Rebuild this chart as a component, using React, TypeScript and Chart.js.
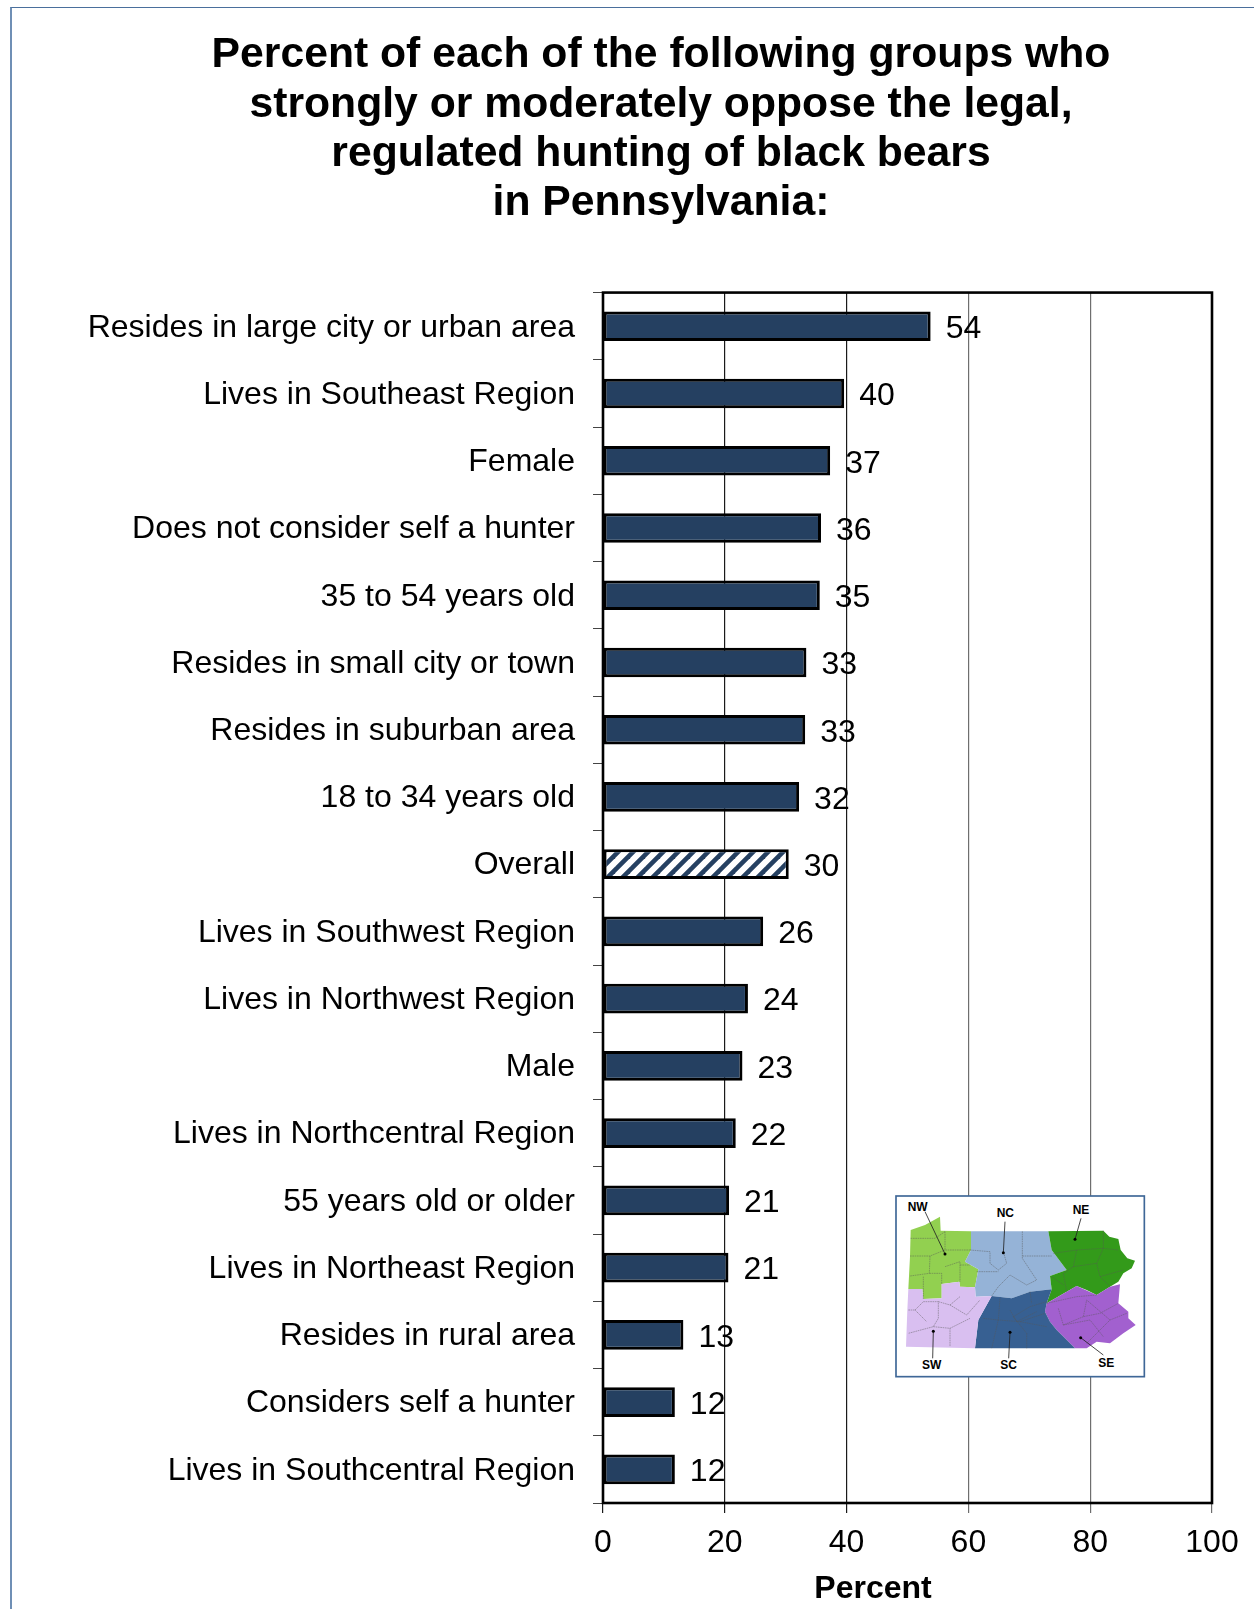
import React, { useEffect, useRef } from "react";
import { Chart, registerables } from "chart.js";

Chart.register(...registerables);

const titleLines = [
  "Percent of each of the following groups who",
  "strongly or moderately oppose the legal,",
  "regulated hunting of black bears",
  "in Pennsylvania:",
];
const categories = [
  "Resides in large city or urban area",
  "Lives in Southeast Region",
  "Female",
  "Does not consider self a hunter",
  "35 to 54 years old",
  "Resides in small city or town",
  "Resides in suburban area",
  "18 to 34 years old",
  "Overall",
  "Lives in Southwest Region",
  "Lives in Northwest Region",
  "Male",
  "Lives in Northcentral Region",
  "55 years old or older",
  "Lives in Northeast Region",
  "Resides in rural area",
  "Considers self a hunter",
  "Lives in Southcentral Region",
];
const barValues = [53.8, 39.6, 37.3, 35.8, 35.6, 33.4, 33.2, 32.2, 30.5, 26.3, 23.8, 22.9, 21.8, 20.7, 20.6, 13.2, 11.8, 11.8];
const valueLabels = ["54", "40", "37", "36", "35", "33", "33", "32", "30", "26", "24", "23", "22", "21", "21", "13", "12", "12"];
const hatchedCategory = "Overall";
const axisTitle = "Percent";

const FONT = '"Liberation Sans", Arial, sans-serif';
const NAVY = "#254061";

const regions: { fill: string; points: string }[] = [
  { fill: "#92d050", points: "122,180 165,165 210,140 212,182 303,184 303,240 285,275 325,298 315,352 270,350 268,335 215,342 215,385 160,387 157,357 115,357 120,260" },
  { fill: "#95b3d7", points: "303,184 535,184 545,240 590,300 540,318 545,358 480,365 425,385 365,378 317,380 315,352 325,298 285,275 303,240" },
  { fill: "#339a1a", points: "535,184 700,182 718,200 745,207 752,240 772,265 795,272 785,295 760,310 745,335 720,350 680,375 650,360 620,348 590,365 530,400 545,358 540,318 590,300 545,240" },
  { fill: "#a260cf", points: "530,400 590,365 620,348 680,375 720,350 750,343 745,400 775,425 775,445 797,465 760,490 720,520 680,515 650,535 615,535 585,505 560,480 540,455 525,425" },
  { fill: "#376092", points: "365,378 425,385 480,365 545,358 530,400 525,425 540,455 560,480 585,505 615,535 315,535 325,450" },
  { fill: "#d9bff0", points: "115,357 157,357 160,387 215,385 215,342 268,335 270,350 315,352 317,380 365,378 325,450 315,535 108,530 112,420" },
];
const countyLines = [
  "122,205 195,205 225,185", "225,185 225,240 303,240", "120,258 180,258 225,240", "180,258 178,310 120,318",
  "178,310 215,310 215,342", "160,387 160,320", "225,290 270,275 270,335", "270,285 300,285",
  "300,240 360,245 360,280 385,300 410,280 400,245", "457,184 457,265 500,330 470,345 420,315 385,350 365,378", "457,258 545,258", "320,305 385,305",
  "620,240 700,235 745,240", "550,250 620,240 610,290 580,310 590,365", "610,290 680,280 690,320 720,350", "700,182 700,235 680,280", "690,320 760,300", "545,320 580,345",
  "530,400 620,380 680,375", "565,415 580,465 640,440 690,430 745,400", "640,440 650,390 720,450 650,520", "580,465 660,450 700,500", "720,450 770,430",
  "390,385 385,450 365,535", "430,440 480,410 530,395", "430,440 470,490 470,535", "340,445 385,450 450,455 525,430", "450,455 530,470", "480,365 485,400", "420,420 440,455 500,425",
  "135,420 160,395 205,395 205,445 190,470 115,490", "205,395 240,405 290,435 330,390", "190,470 240,475 240,530", "240,405 270,380", "115,420 135,420 170,455", "240,475 300,445",
];
const pointers = [
  { line: "165,125 225,252", dot: "225,252" },
  { line: "405,155 400,248", dot: "400,248" },
  { line: "633,145 615,208", dot: "615,208" },
  { line: "188,565 190,484", dot: "190,484" },
  { line: "416,565 420,487", dot: "420,487" },
  { line: "700,555 632,503", dot: "632,503" },
];
const mapLabels = [
  { t: "NW", x: 143, y: 122 }, { t: "NC", x: 406, y: 138 }, { t: "NE", x: 633, y: 130 },
  { t: "SW", x: 185, y: 595 }, { t: "SC", x: 416, y: 596 }, { t: "SE", x: 709, y: 589 },
];

function makeHatch(): CanvasPattern | string {
  const size = 15;
  const c = document.createElement("canvas");
  c.width = size;
  c.height = size;
  const g = c.getContext("2d");
  if (!g) return NAVY;
  g.fillStyle = "#ffffff";
  g.fillRect(0, 0, size, size);
  g.strokeStyle = NAVY;
  g.lineWidth = 4.6;
  [-size, 0, size].forEach((o) => {
    g.beginPath();
    g.moveTo(o - 2, size + 2);
    g.lineTo(o + size + 2, -2);
    g.stroke();
  });
  return g.createPattern(c, "repeat") || NAVY;
}

const chartDecor = {
  id: "chartDecor",
  afterLayout(chart: any) {
    // let the longest category label run past the reserved axis box instead of being clipped
    chart.scales.y.left = 0;
  },
  afterDatasetsDraw(chart: any) {
    const { ctx, chartArea: a } = chart;
    ctx.save();
    ctx.strokeStyle = "#000";
    ctx.lineWidth = 2.6;
    ctx.strokeRect(a.left, a.top, a.right - a.left, a.bottom - a.top);
    const bars = chart.getDatasetMeta(0).data;
    ctx.fillStyle = "#000";
    ctx.font = `32px ${FONT}`;
    ctx.textAlign = "left";
    ctx.textBaseline = "middle";
    bars.forEach((b: any, i: number) => {
      ctx.fillText(valueLabels[i], b.x + 15, b.y + 3);
    });
    ctx.font = `bold 32px ${FONT}`;
    ctx.textAlign = "center";
    ctx.fillText(axisTitle, 873, 1589);
    ctx.restore();
  },
};

export default function App() {
  const ref = useRef<HTMLCanvasElement>(null);
  useEffect(() => {
    if (!ref.current) return;
    const hatch = makeHatch();
    const chart = new Chart(ref.current, {
      type: "bar",
      data: {
        labels: categories,
        datasets: [
          {
            data: barValues,
            backgroundColor: categories.map((c) => (c === hatchedCategory ? hatch : NAVY)) as any,
            borderColor: "#000",
            borderWidth: 3,
            borderSkipped: false,
            barPercentage: 0.44,
            categoryPercentage: 1,
          },
        ],
      },
      options: {
        indexAxis: "y",
        responsive: false,
        animation: false,
        layout: { padding: { left: 110, right: 42, top: 0, bottom: 0 } },
        plugins: {
          legend: { display: false },
          tooltip: { enabled: false },
          title: {
            display: true,
            text: titleLines,
            color: "#000",
            font: { family: FONT, size: 42.7, weight: "bold", lineHeight: 1.155 },
            padding: { top: 31, bottom: 64.3 },
          },
        },
        scales: {
          x: {
            min: 0,
            max: 100,
            afterFit(s: any) {
              s.height = 106;
              s.paddingLeft = 0;
              s.paddingRight = 0;
            },
            ticks: { stepSize: 20, color: "#000", padding: 11, maxRotation: 0, font: { family: FONT, size: 32 } },
            grid: {
              color: (c: any) => (c.tick && c.tick.value >= 60 ? "#6e6e6e" : "#1a1a1a"),
              lineWidth: 1.2,
              tickLength: 10,
              drawTicks: true,
            },
            border: { display: false },
          },
          y: {
            offset: true,
            afterFit(s: any) {
              s.width = 493;
            },
            ticks: { autoSkip: false, color: "#000", padding: 18, labelOffset: 1.5, font: { family: FONT, size: 32 } },
            grid: { drawOnChartArea: false, drawTicks: true, offset: true, tickLength: 10, color: "#444", lineWidth: 1 },
            border: { display: false },
          },
        },
      },
      plugins: [chartDecor],
    } as any);
    return () => chart.destroy();
  }, []);

  return (
    <div style={{ position: "absolute", left: 0, top: 0, width: 1254, height: 1609, overflow: "hidden", background: "#fff" }}>
      <div style={{ position: "absolute", left: 10, top: 7, width: 1244, height: 1602, borderLeft: "2px solid #6f8fb5", borderTop: "1.5px solid #4a6f9c", boxSizing: "border-box" }} />
      <canvas ref={ref} width={1254} height={1609} style={{ position: "absolute", left: 0, top: 0, display: "block" }} />
      <svg viewBox="0 0 900 660" width={300} height={220} style={{ position: "absolute", left: 870, top: 1170 }}>
        <rect x={78} y={78} width={745} height={542} fill="#fff" stroke="#3f6797" strokeWidth={5} />
        {regions.map((r, i) => (
          <polygon key={i} points={r.points} fill={r.fill} />
        ))}
        {countyLines.map((l, i) => (
          <polyline key={i} points={l} fill="none" stroke="#555" strokeOpacity={0.65} strokeWidth={2} strokeDasharray="5 2" />
        ))}
        {pointers.map((p, i) => {
          const [cx, cy] = p.dot.split(",").map(Number);
          return (
            <g key={i}>
              <polyline points={p.line} fill="none" stroke="#222" strokeWidth={2.5} />
              <circle cx={cx} cy={cy} r={4.5} fill="#000" />
            </g>
          );
        })}
        {mapLabels.map((m, i) => (
          <text key={i} x={m.x} y={m.y + 2} textAnchor="middle" fontFamily={FONT} fontWeight="bold" fontSize={36} fill="#000">
            {m.t}
          </text>
        ))}
      </svg>
    </div>
  );
}
